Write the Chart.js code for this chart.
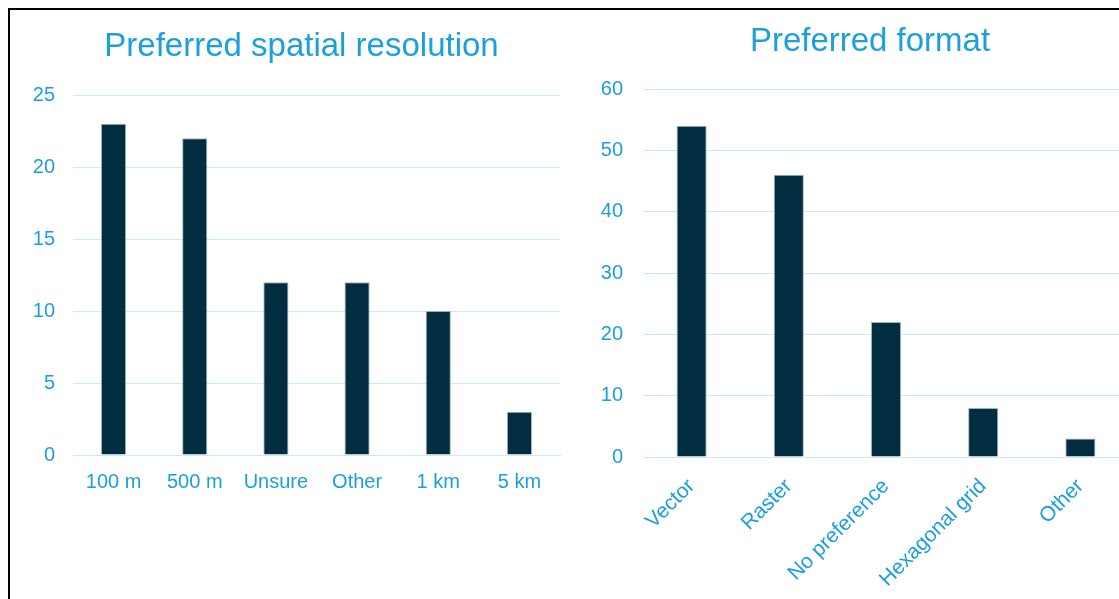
<!DOCTYPE html>
<html>
<head>
<meta charset="utf-8">
<script src="https://cdn.jsdelivr.net/npm/chart.js@4"></script>
<style>
  html, body { margin: 0; padding: 0; background: #fff; overflow: hidden; width: 1119px; height: 599px; }
  #frame { position: absolute; left: 8px; top: 8px; width: 1200px; height: 700px; border-top: 2px solid #000; border-left: 2px solid #000; }
  #res-wrap { position: absolute; left: 0; top: 0; width: 565px; height: 599px; }
  #fmt-wrap { position: absolute; left: 565px; top: 0; width: 575px; height: 599px; }
</style>
</head>
<body>
<div id="frame"></div>
<div id="res-wrap"><canvas id="resChart" width="565" height="599"></canvas></div>
<div id="fmt-wrap"><canvas id="fmtChart" width="575" height="599"></canvas></div>
<script>
// Preferred spatial resolution
const resLabels = ["100 m", "500 m", "Unsure", "Other", "1 km", "5 km"];
const resValues = [23, 22, 12, 12, 10, 3];
const resTicks = [0, 5, 10, 15, 20, 25];

// Preferred format
const fmtLabels = ["Vector", "Raster", "No preference", "Hexagonal grid", "Other"];
const fmtValues = [54, 46, 22, 8, 3];
const fmtTicks = [0, 10, 20, 30, 40, 50, 60];

const blue = "#1ca0dc";
const barColor = "#022c3f";
const gridColor = "#c6ecfa";
const fontFamily = "'Liberation Sans', Arial, sans-serif";

Chart.defaults.font.family = fontFamily;
Chart.defaults.color = blue;

// let the y tick labels spill left of the (narrow) y axis box instead of being clipped
const labelRoom = {
  id: "labelRoom",
  afterLayout(chart) { chart.scales.y.left = 0; }
};

function makeBarChart(id, labels, values, ticks, opts) {
  const ctx = document.getElementById(id).getContext("2d");
  return new Chart(ctx, {
    type: "bar",
    data: {
      labels: labels,
      datasets: [{
        data: values,
        backgroundColor: barColor,
        borderColor: "rgba(120,150,165,0.7)",
        borderWidth: 1,
        categoryPercentage: 1,
        barPercentage: 0.31
      }]
    },
    options: {
      responsive: false,
      animation: false,
      layout: { padding: opts.padding },
      plugins: {
        legend: { display: false },
        tooltip: { enabled: false },
        title: {
          display: true,
          text: opts.title,
          color: blue,
          font: { size: 33, weight: "normal" },
          padding: opts.titlePadding
        }
      },
      scales: {
        x: {
          grid: { display: false },
          border: { display: true, color: gridColor, width: 1 },
          ticks: {
            color: blue,
            font: { size: opts.xFont },
            padding: opts.xPad,
            autoSkip: false,
            minRotation: opts.rotation,
            maxRotation: opts.rotation
          },
          afterFit: s => { s.height = opts.xHeight; }
        },
        y: {
          min: 0,
          max: ticks[ticks.length - 1],
          afterBuildTicks: s => { s.ticks = ticks.map(v => ({ value: v })); },
          grid: { color: gridColor, lineWidth: 1, drawTicks: false },
          border: { display: false },
          ticks: { color: blue, font: { size: 20 }, padding: opts.yPad },
          afterFit: s => { s.width = opts.yWidth; }
        }
      }
    },
    plugins: [labelRoom]
  });
}

makeBarChart("resChart", resLabels, resValues, resTicks, {
  title: "Preferred spatial resolution",
  padding: { left: 43, right: 5, top: 10, bottom: 0 },
  titlePadding: { top: 17, bottom: 28.4 },
  xFont: 20,
  xPad: 7,
  xHeight: 144,
  rotation: 0,
  yPad: 18,
  yWidth: 30
});

makeBarChart("fmtChart", fmtLabels, fmtValues, fmtTicks, {
  title: "Preferred format",
  padding: { left: 46, right: 11, top: 10, bottom: 0 },
  titlePadding: { top: 12, bottom: 27.4 },
  xFont: 21,
  xPad: 9,
  xHeight: 142,
  rotation: 45,
  yPad: 20,
  yWidth: 32
});
</script>
</body>
</html>
